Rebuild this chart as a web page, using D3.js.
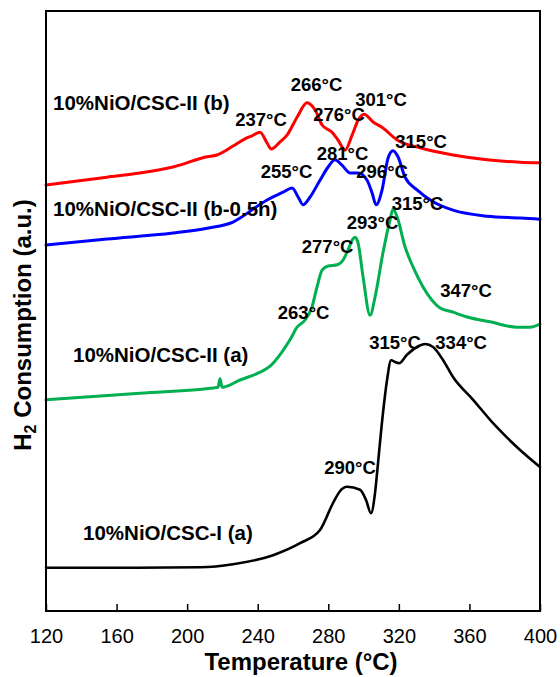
<!DOCTYPE html>
<html lang="en">
<head>
<meta charset="UTF-8">
<title>H2-TPR</title>
<script src="https://d3js.org/d3.v7.min.js"></script>
<style>
    body { margin: 0; background: #fff; }
    svg { display: block; font-family: "Liberation Sans", Arial, sans-serif; }
    .curve { fill: none; stroke-linejoin: round; stroke-linecap: round; }
    .lbl { font-weight: bold; fill: #000; }
</style>
</head>
<body>
<div id="chart"></div>
<script>
// temperature (°C), signal (a.u., offset stacked)
const curveB = [[120,71.0],[154.6,72.3],[173.3,73.0],[192,74.0],[211.3,75.7],[216.9,76.0],[226,77.5],
    [232.8,78.7],[236.8,79.2],[241.3,79.8],[245.3,78.0],[247.6,77.0],[252.7,78.2],[256.6,79.3],
    [262.3,82.3],[268,84.7],[272.5,83.5],[276.5,81.0],[282.1,79.8],[285.5,78.5],[289.5,76.8],
    [293.5,79.3],[296.9,81.8],[300.3,82.8],[305.4,81.5],[311,80.5],[319,78.5],[332,77.2],
    [350.7,76.0],[370,75.2],[388.7,74.8],[400,74.7]];

const curveB05 = [[120,61.0],[154.6,62.0],[192,63.0],[211.3,63.8],[226,64.8],[230,65.5],[245.3,68.5],
    [254.4,69.8],[259.5,70.5],[262.9,69.0],[265.7,67.7],[269.7,69.0],[275.3,71.8],[279.9,74.0],
    [283.8,75.2],[287.8,74.3],[292.4,73.0],[296.9,73.0],[302,71.8],[304.8,69.7],[307.1,67.7],
    [310.5,70.2],[313.9,75.5],[316.7,76.7],[319.5,75.7],[323.5,72.3],[330.3,70.2],[339.4,68.2],
    [350.7,66.8],[370,65.8],[388.7,65.5],[400,65.3]];

const curveIIa = [[120,35.2],[173.3,36.3],[217.5,37.3],[218.6,38.7],[219.8,37.3],[230,38.5],[241.3,39.8],
    [247,40.8],[253.8,43.2],[258.3,45.2],[262.3,47.3],[266.8,48.5],[270.8,50.7],[273.6,54.0],
    [276.5,56.8],[279.9,57.5],[285,57.7],[288.4,58.5],[291.2,60.2],[293.5,61.8],[295.2,62.3],
    [296.9,61.3],[299.7,55.7],[303.7,49.3],[306.5,52.3],[311,59.7],[315,65.2],[316.7,67.0],
    [319,65.7],[323.5,60.7],[328.1,57.3],[333.7,54.0],[343.4,50.5],[350.7,49.8],[358.7,49.0],
    [371.7,48.2],[387,47.3],[394.4,47.3],[400,47.8]];

const curveIa = [[120,7.2],[162,7.2],[207.3,7.3],[226,7.8],[248.7,9.3],[264,11.3],[275.3,13.5],
    [282.7,18.0],[286.7,20.0],[290.6,20.7],[298,20.2],[301.4,18.5],[304.2,16.3],[306.5,19.7],
    [308.2,24.7],[311,33.0],[313.3,38.5],[315.6,41.8],[317.8,41.5],[320.1,41.3],[324.6,42.7],
    [330.3,44.0],[334.9,44.5],[339.4,44.0],[345.1,41.8],[350.7,39.0],[362.1,35.2],[373.4,31.3],
    [387,27.3],[400,24.0]];

const series = [
    { data: curveB,   color: "#ff0000", width: 3 },
    { data: curveB05, color: "#0000ff", width: 3 },
    { data: curveIIa, color: "#00b050", width: 3 },
    { data: curveIa,  color: "#000000", width: 2.6 }
];

const xTicks = [120, 160, 200, 240, 280, 320, 360, 400];

// sample names, anchored at their left edge
const sampleLabels = [
    ["10%NiO/CSC-II (b)", 124, 84.7],
    ["10%NiO/CSC-II (b-0.5h)", 124, 67.0],
    ["10%NiO/CSC-II (a)", 135.3, 42.7],
    ["10%NiO/CSC-I (a)", 141, 13.0]
];

// peak temperatures, anchored at their centre
const peakLabels = [
    ["237°C", 241.9, 82.0], ["266°C", 273.3, 87.7], ["276°C", 286.1, 82.7], ["301°C", 309.9, 85.2],
    ["315°C", 332.6, 78.2], ["281°C", 288.1, 76.3], ["255°C", 256.3, 73.2], ["296°C", 310.5, 73.2],
    ["315°C", 330.6, 68.0], ["293°C", 305.1, 64.8], ["277°C", 279.6, 60.7], ["263°C", 266.0, 49.7],
    ["347°C", 358.1, 53.5], ["315°C", 317.8, 44.8], ["334°C", 355.3, 44.8], ["290°C", 292.3, 24.0]
];

const W = 560, H = 677;
const m = { left: 46, right: 20, top: 11, bottom: 66 };

const svg = d3.select("#chart").append("svg")
    .attr("width", W)
    .attr("height", H);

const x = d3.scaleLinear().domain([120, 400]).range([m.left, W - m.right]);
const y = d3.scaleLinear().domain([0, 100]).range([H - m.bottom, m.top]);

const line = d3.line()
    .x(d => x(d[0]))
    .y(d => y(d[1]))
    .curve(d3.curveMonotoneX);

// curves
series.forEach(s => {
    svg.append("path")
        .attr("class", "curve")
        .attr("d", line(s.data))
        .attr("stroke", s.color)
        .attr("stroke-width", s.width);
});

// frame
svg.append("rect")
    .attr("x", m.left)
    .attr("y", m.top)
    .attr("width", W - m.right - m.left)
    .attr("height", H - m.bottom - m.top)
    .attr("fill", "none")
    .attr("stroke", "#000")
    .attr("stroke-width", 2);

// bottom axis, inward ticks
const xAxis = d3.axisBottom(x)
    .tickValues(xTicks)
    .tickSizeInner(-7)
    .tickSizeOuter(0)
    .tickPadding(18);

const gx = svg.append("g")
    .attr("transform", `translate(0,${H - m.bottom})`)
    .call(xAxis);
gx.select(".domain").remove();
gx.selectAll(".tick line").attr("stroke", "#000").attr("stroke-width", 1.5);
gx.selectAll(".tick text")
    .attr("font-family", "Liberation Sans, Arial, sans-serif")
    .attr("font-size", 20)
    .attr("fill", "#000");

// axis titles
svg.append("text")
    .attr("class", "lbl")
    .attr("x", (m.left + W - m.right) / 2 + 8)
    .attr("y", 670)
    .attr("text-anchor", "middle")
    .attr("font-size", 24)
    .text("Temperature (°C)");

const yt = svg.append("text")
    .attr("class", "lbl")
    .attr("transform", `translate(31,${(m.top + H - m.bottom) / 2 + 14}) rotate(-90)`)
    .attr("text-anchor", "middle")
    .attr("font-size", 24);
yt.append("tspan").text("H");
yt.append("tspan").attr("font-size", 16).attr("dy", 5).text("2");
yt.append("tspan").attr("dy", -5).text(" Consumption (a.u.)");

// annotations
svg.selectAll(".sample")
    .data(sampleLabels)
    .enter().append("text")
    .attr("class", "lbl sample")
    .attr("x", d => x(d[1]))
    .attr("y", d => y(d[2]))
    .attr("dy", "0.36em")
    .attr("font-size", 20.5)
    .text(d => d[0]);

svg.selectAll(".peak")
    .data(peakLabels)
    .enter().append("text")
    .attr("class", "lbl peak")
    .attr("x", d => x(d[1]))
    .attr("y", d => y(d[2]))
    .attr("dy", "0.36em")
    .attr("text-anchor", "middle")
    .attr("font-size", 18.5)
    .text(d => d[0]);
</script>
</body>
</html>
